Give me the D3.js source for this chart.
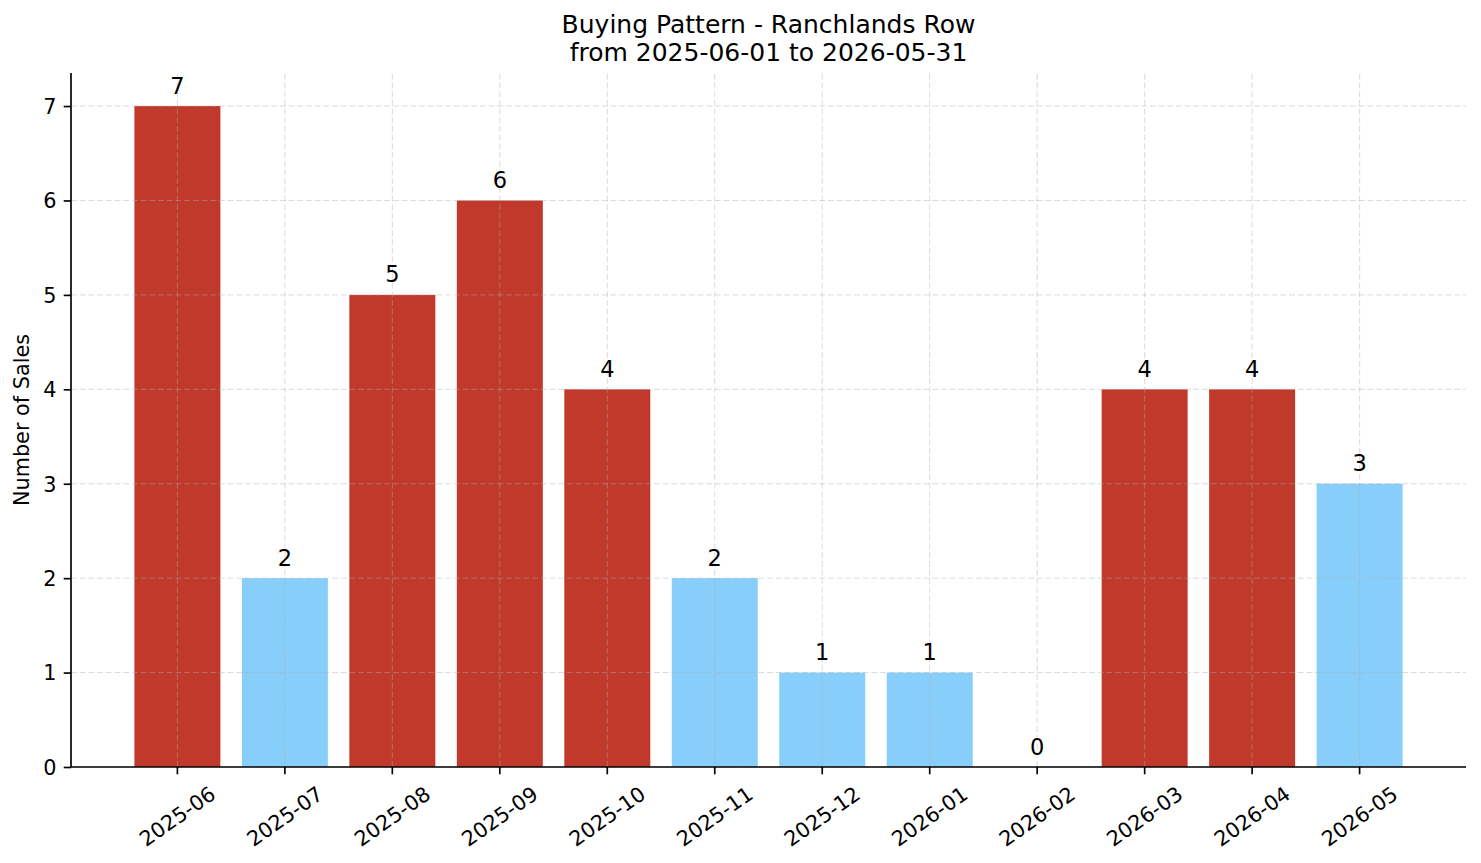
<!DOCTYPE html>
<html>
<head>
<meta charset="utf-8">
<script src="https://cdn.jsdelivr.net/npm/d3@7"></script>
<style>
  html, body { margin: 0; padding: 0; background: #fff; }
  svg { display: block; font-family: "DejaVu Sans", sans-serif; }
</style>
</head>
<body>
<div id="chart"></div>
<script>
// --------------- Data ---------------
const MONTHS = ["2025-06", "2025-07", "2025-08", "2025-09", "2025-10", "2025-11",
  "2025-12", "2026-01", "2026-02", "2026-03", "2026-04", "2026-05"];
const SALES = [7, 2, 5, 6, 4, 2, 1, 1, 0, 4, 4, 3];
const Y_TICKS = [0, 1, 2, 3, 4, 5, 6, 7];
const TITLE_LINES = ["Buying Pattern - Ranchlands Row", "from 2025-06-01 to 2026-05-31"];
const Y_LABEL = "Number of Sales";

// --------------- Constants ---------------
const WIDTH = 1481;
const HEIGHT = 863;
const MARGINS = { top: 73, right: 15, bottom: 96, left: 71 };
const HIGH_COLOR = "#c0392b";
const LOW_COLOR = "#87cefa";
const TICK_LEN = 7.3;
const TICK_PAD = 7.3;
const LABEL_ROTATION = 35;
const TICK_FONT = 20.8;

// --------------- Prep SVG ---------------
const svg = d3
  .select("#chart")
  .append("svg")
  .attr("width", WIDTH)
  .attr("height", HEIGHT);

const x0 = MARGINS.left;
const x1 = WIDTH - MARGINS.right;
const y0 = HEIGHT - MARGINS.bottom;
const y1 = MARGINS.top;

const x = d3
  .scaleBand()
  .domain(MONTHS)
  .range([x0, x1])
  .paddingInner(0.2)
  .paddingOuter(0.59);

const y = d3
  .scaleLinear()
  .domain([0, d3.max(SALES) * 1.05])
  .range([y0, y1]);

const mean = d3.mean(SALES);
const cx = (m) => x(m) + x.bandwidth() / 2;

// bars (above average in red)
svg
  .append("g")
  .selectAll("rect")
  .data(SALES)
  .join("rect")
  .attr("x", (d, i) => x(MONTHS[i]))
  .attr("y", (d) => y(d))
  .attr("width", x.bandwidth())
  .attr("height", (d) => y(0) - y(d))
  .attr("fill", (d) => (d > mean ? HIGH_COLOR : LOW_COLOR));

// dashed grid on top of the bars
const grid = svg
  .append("g")
  .attr("stroke", "#b0b0b0")
  .attr("stroke-opacity", 0.45)
  .attr("stroke-width", 1)
  .attr("stroke-dasharray", "6,2.7");
grid
  .selectAll("line.gy")
  .data(Y_TICKS)
  .join("line")
  .attr("class", "gy")
  .attr("x1", x0)
  .attr("x2", x1)
  .attr("y1", (d) => y(d))
  .attr("y2", (d) => y(d));
grid
  .selectAll("line.gx")
  .data(MONTHS)
  .join("line")
  .attr("class", "gx")
  .attr("x1", cx)
  .attr("x2", cx)
  .attr("y1", y0)
  .attr("y2", y1);

// value labels
svg
  .append("g")
  .selectAll("text")
  .data(SALES)
  .join("text")
  .attr("x", (d, i) => cx(MONTHS[i]))
  .attr("y", (d) => y(d) - 12.5)
  .attr("text-anchor", "middle")
  .attr("font-size", 22.5)
  .attr("fill", "#000")
  .text((d) => d);

// y axis
const yAxis = svg
  .append("g")
  .attr("transform", `translate(${x0},0)`)
  .call(d3.axisLeft(y).tickValues(Y_TICKS).tickSize(TICK_LEN).tickPadding(TICK_PAD).tickFormat(d3.format("d")));
yAxis.select(".domain").attr("stroke", "#000").attr("stroke-width", 1.67).attr("d", `M0,${y0}V${y1}`);
yAxis.selectAll(".tick line").attr("stroke", "#000").attr("stroke-width", 1.67);
yAxis
  .selectAll(".tick text")
  .attr("font-size", TICK_FONT)
  .attr("font-family", "DejaVu Sans")
  .attr("fill", "#000")
  .attr("dy", "0.35em");

// x axis
const xAxis = svg
  .append("g")
  .attr("transform", `translate(0,${y0})`)
  .call(d3.axisBottom(x).tickSize(TICK_LEN).tickSizeOuter(0));
xAxis.select(".domain").attr("stroke", "#000").attr("stroke-width", 1.67).attr("d", `M${x0},0H${x1}`);
xAxis.selectAll(".tick line").attr("stroke", "#000").attr("stroke-width", 1.67);

// rotated tick labels, centred on the tick like matplotlib does
const rad = (LABEL_ROTATION * Math.PI) / 180;
const lineH = TICK_FONT * 1.164;
xAxis.selectAll(".tick text").each(function () {
  const t = d3.select(this)
    .attr("font-size", TICK_FONT)
    .attr("font-family", "DejaVu Sans")
    .attr("fill", "#000")
    .attr("text-anchor", "middle")
    .attr("x", 0)
    .attr("y", 0)
    .attr("dy", "0.346em");
  const len = this.getComputedTextLength();
  const boxH = len * Math.sin(rad) + lineH * Math.cos(rad);
  const top = TICK_LEN + TICK_PAD;
  t.attr("transform", `translate(0,${top + boxH / 2}) rotate(${-LABEL_ROTATION})`);
});

// y label
svg
  .append("text")
  .attr("transform", `translate(29,${(y0 + y1) / 2}) rotate(-90)`)
  .attr("text-anchor", "middle")
  .attr("font-size", 20.8)
  .attr("fill", "#000")
  .text(Y_LABEL);

// title
svg
  .append("g")
  .selectAll("text")
  .data(TITLE_LINES)
  .join("text")
  .attr("x", (x0 + x1) / 2)
  .attr("y", (d, i) => 33 + i * 28)
  .attr("text-anchor", "middle")
  .attr("font-size", 25)
  .attr("fill", "#000")
  .text((d) => d);
</script>
</body>
</html>
